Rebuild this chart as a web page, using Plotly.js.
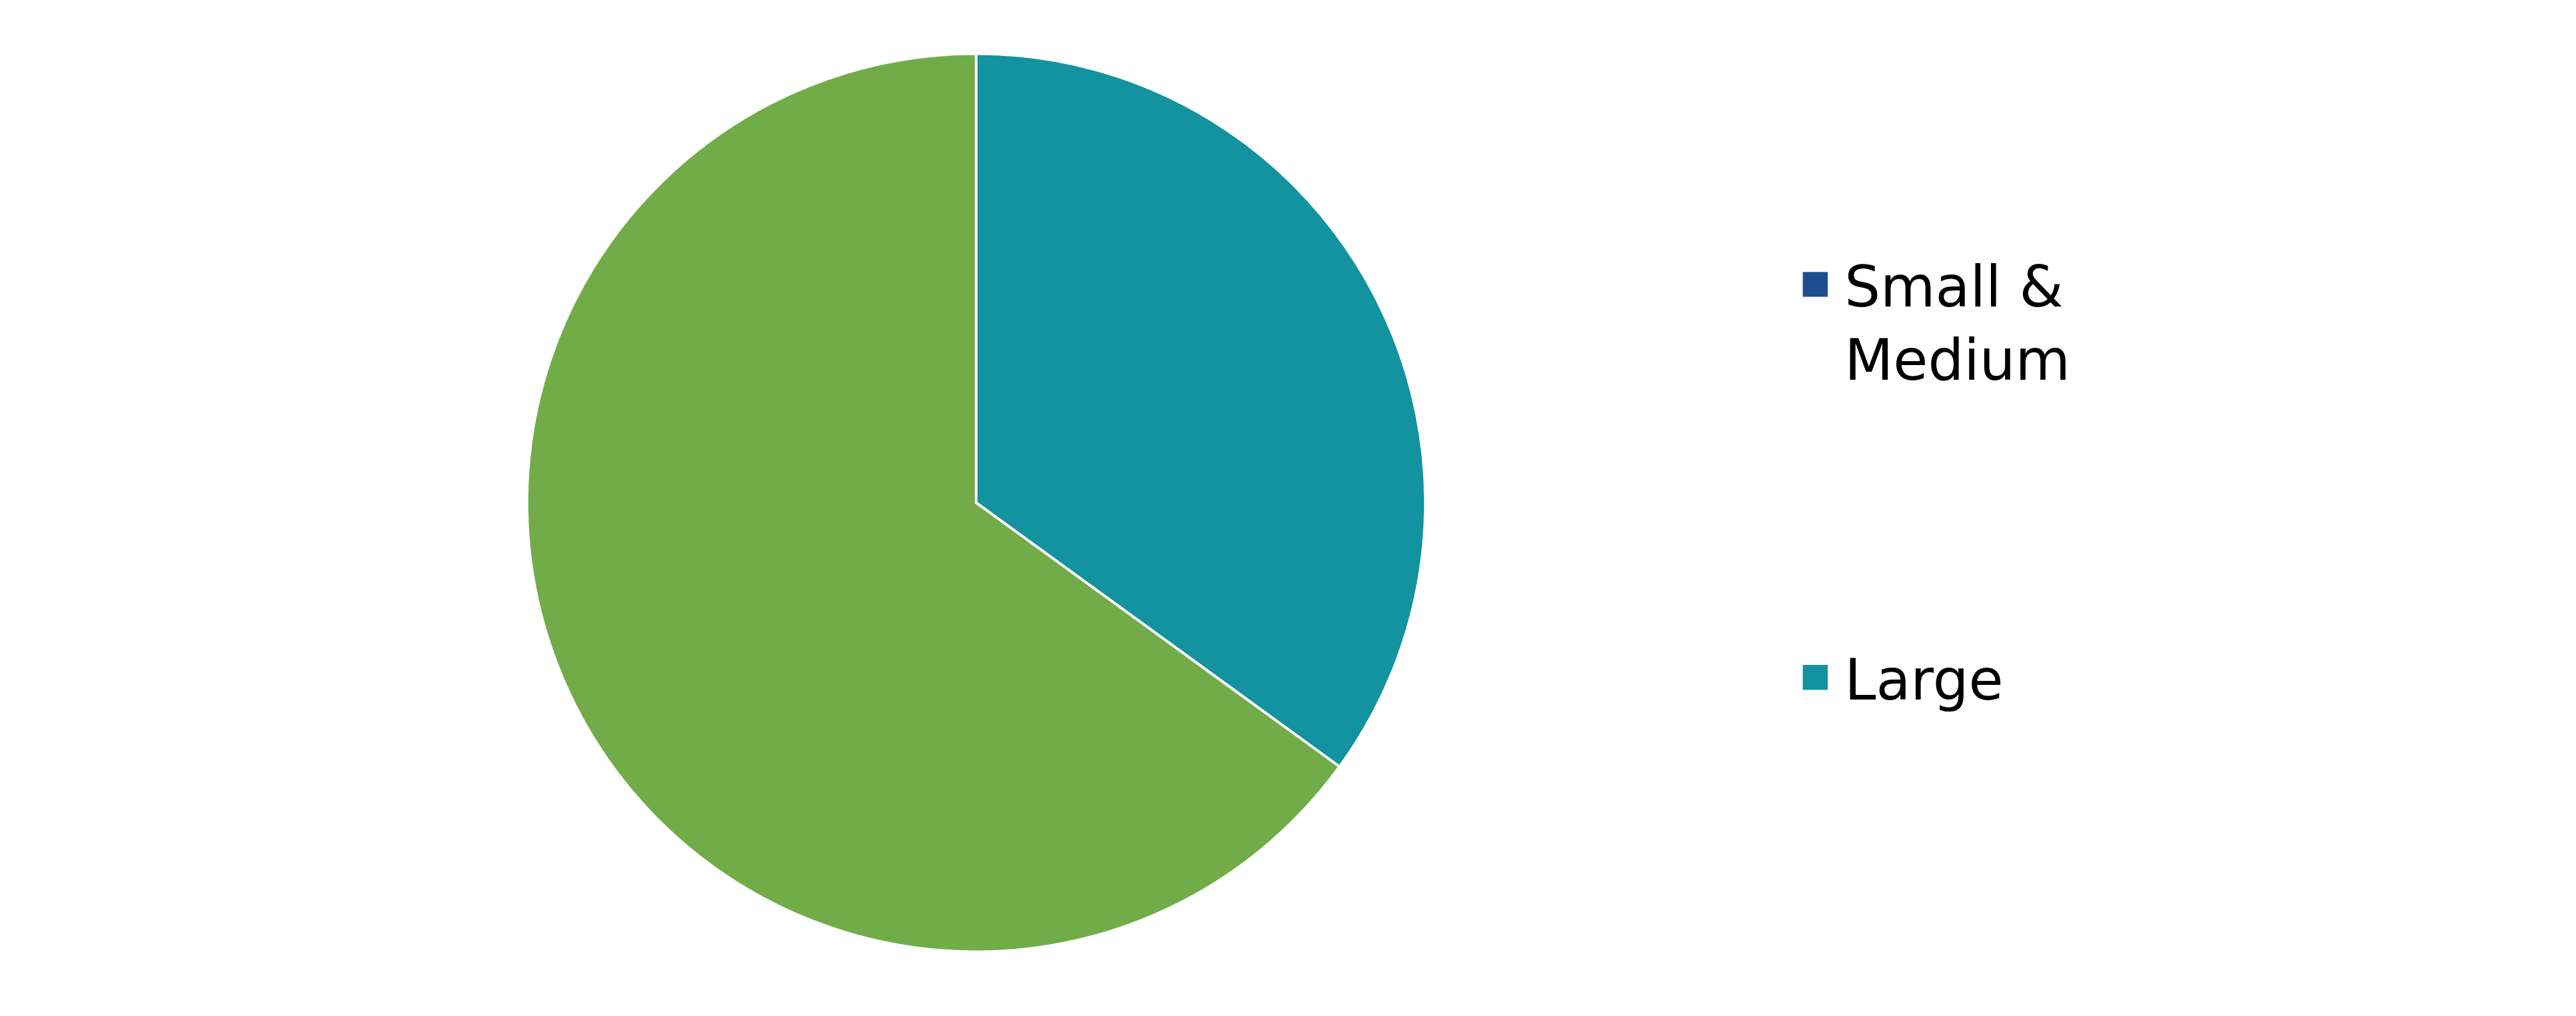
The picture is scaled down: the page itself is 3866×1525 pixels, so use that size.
<!DOCTYPE html>
<html>
<head>
<meta charset="utf-8">
<script src="https://cdn.plot.ly/plotly-3.0.1.min.js"></script>
<style>
  html { overflow: hidden; }
  body { margin: 0; padding: 0; background: #fff; width: 3866px; height: 1525px; }
  /* the chart is laid out smaller and scaled up, so legend squares keep their proportion */
  #piePlot_size { width: 1757px; height: 693px; transform: scale(2.2); transform-origin: 0 0; }
</style>
</head>
<body>
<div id="piePlot_size"></div>
<script>
// data
let sizeLabels = ["Large", "Small & Medium"];
let shareValues = [35, 65];
let sliceColors = ["#13929f", "#72ac48"];

// legend entries (as in the original, the colours do not follow the slices)
let legendNames = ["Small &<br>Medium", "Large"];
let legendColors = ["#1f4e8f", "#13929f"];

var cb_piePlot_size = function () {
  let pieTrace = {
    type: "pie",
    labels: sizeLabels,
    values: shareValues,
    sort: false,
    direction: "clockwise",
    rotation: 0,
    textinfo: "none",
    hoverinfo: "label+percent",
    showlegend: false,
    marker: {
      colors: sliceColors,
      line: { color: "#ffffff", width: 1.8 },
    },
    domain: { x: [0.2046, 0.5534], y: [0.0627, 0.9475] },
  };

  // legend-only entries, nothing is plotted
  let legendTraces = legendNames.map(function (name, i) {
    return {
      type: "scatter",
      mode: "markers",
      x: [null],
      y: [null],
      name: name,
      legendgroup: "g" + i,
      marker: {
        symbol: "square",
        size: 16,
        color: legendColors[i],
        line: { width: 1, color: legendColors[i] },
      },
      hoverinfo: "skip",
    };
  });

  let data = [pieTrace].concat(legendTraces);

  let layout = {
    width: 1757,
    height: 693,
    margin: { l: 0, r: 0, b: 0, t: 0, pad: 0 },
    paper_bgcolor: "#ffffff",
    plot_bgcolor: "#ffffff",
    font: { family: "DejaVu Sans, Verdana, sans-serif", color: "#000000" },
    showlegend: true,
    legend: {
      x: 0.6934,
      y: 0.7655,
      xanchor: "left",
      yanchor: "top",
      valign: "top",
      tracegroupgap: 165,
      font: { size: 38.5, color: "#000000" },
      bgcolor: "rgba(0,0,0,0)",
    },
    xaxis: { visible: false },
    yaxis: { visible: false },
  };

  let config = { displayModeBar: false, staticPlot: true };

  Plotly.newPlot("piePlot_size", data, layout, config);
};

cb_piePlot_size();
</script>
</body>
</html>
